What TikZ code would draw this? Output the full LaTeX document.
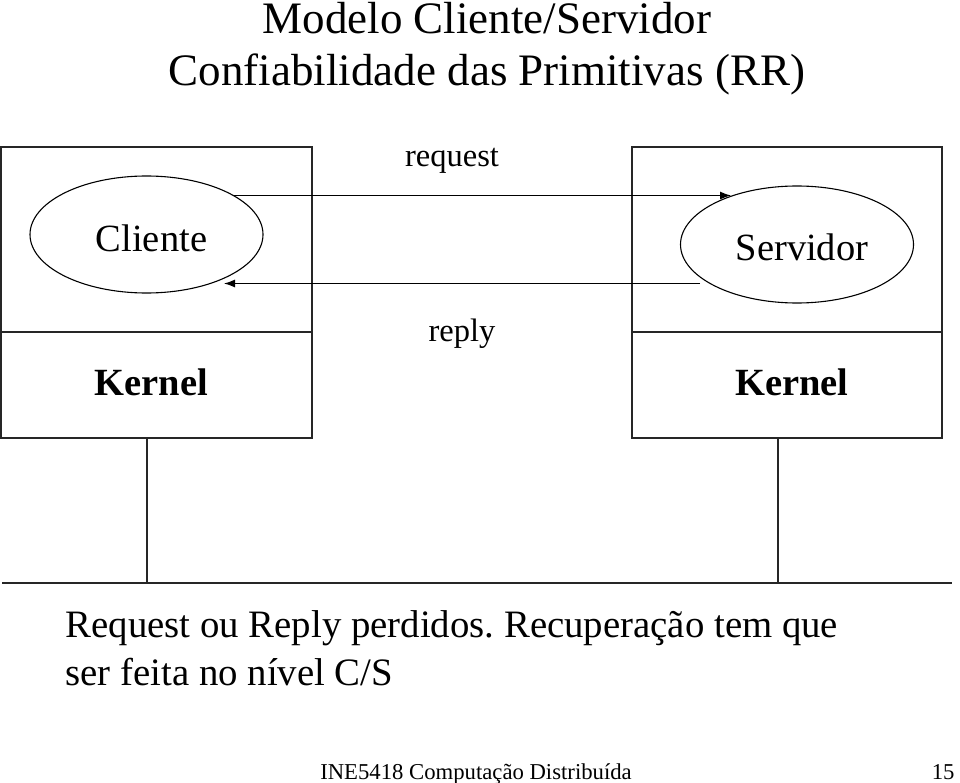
\documentclass[tikz,border=0pt]{standalone}
\usepackage{fontspec}
\setmainfont{Liberation Serif}
\usetikzlibrary{arrows.meta,shapes.geometric}
\tikzset{
  boxline/.style={draw=black!85, line width=1.4pt},
  proc/.style={ellipse, draw=black, line width=1.1pt, inner sep=0pt, minimum width=233pt, minimum height=117pt},
  ptext/.style={font=\fontsize{38.5}{42}\selectfont, anchor=base},
  msg/.style={draw=black, line width=1.2pt, -{Latex[length=11pt,width=8pt]}},
  kern/.style={font=\fontsize{38.5}{42}\selectfont\bfseries, anchor=base},
  lbl/.style={font=\fontsize{32.5}{36}\selectfont, anchor=base},
  ttl/.style={font=\fontsize{45}{50}\selectfont, anchor=base},
  body/.style={font=\fontsize{38.8}{44}\selectfont\frenchspacing, anchor=base west},
  foot/.style={font=\fontsize{22.7}{26}\selectfont, anchor=base}
}
\begin{document}
\begin{tikzpicture}[x=1pt,y=-1pt]
\useasboundingbox (0,0) rectangle (960,783);
% titles
\node[ttl] (t1) at (487,34) {Modelo Cliente/Servidor};
\node[ttl] (t2) at (487,86) {Confiabilidade das Primitivas (RR)};
% machine boxes
\node[boxline, minimum width=311pt, minimum height=291pt, inner sep=0pt] (lbox) at (156.5,292.5) {};
\node[boxline, minimum width=310pt, minimum height=291pt, inner sep=0pt] (rbox) at (787,292.5) {};
\draw[boxline] (lbox.west |- 0,332) -- (lbox.east |- 0,332);
\draw[boxline] (rbox.west |- 0,332) -- (rbox.east |- 0,332);
% processes
\node[proc] (cli) at (146.5,234.5) {};
\node[proc] (srv) at (797,244.5) {};
\node[ptext] (clit) at (151.5,252) {Cliente};
\node[ptext] (srvt) at (802,261) {Servidor};
% kernels
\node[kern] (lk) at (151.5,395) {Kernel};
\node[kern] (rk) at (792,395) {Kernel};
% messages
\coordinate (rqs) at (232.5,195.5);
\coordinate (rqe) at (731,195.5);
\coordinate (rps) at (700,283.5);
\coordinate (rpe) at (224,283.5);
\draw[msg] (rqs) -- (rqe);
\draw[msg] (rps) -- (rpe);
\node[lbl] (req) at (452,167) {request};
\node[lbl] (rep) at (462,341) {reply};
% network
\coordinate (netl) at (2,583);
\coordinate (netr) at (952,583);
\coordinate (ldrop) at (147,583);
\coordinate (rdrop) at (778,583);
\draw[draw=black!85, line width=2pt] (netl) -- (netr);
\draw[boxline, line width=1.3pt] (ldrop |- lbox.south) -- (ldrop);
\draw[boxline, line width=1.3pt] (rdrop |- rbox.south) -- (rdrop);
% body text
\node[body] (b1) at (62,637) {Request ou Reply perdidos. Recuperação tem que};
\node[body] (b2) at (62,685) {ser feita no nível C/S};
% footer
\node[foot] (f1) at (476,779) {INE5418 Computação Distribuída};
\node[foot, anchor=base east] (f2) at (958,779) {15};
\end{tikzpicture}
\end{document}
